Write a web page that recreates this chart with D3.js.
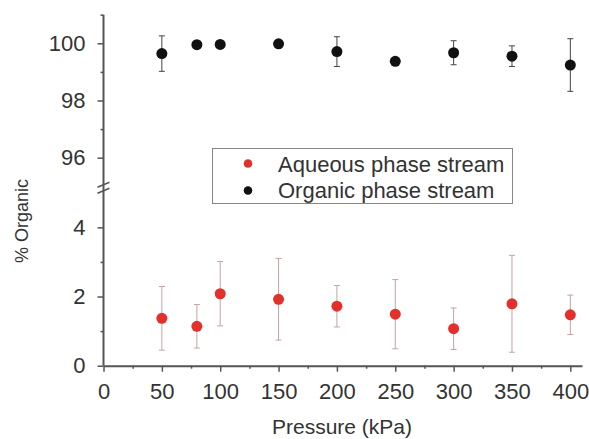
<!DOCTYPE html>
<html>
<head>
<meta charset="utf-8">
<script src="https://cdn.jsdelivr.net/npm/d3@7"></script>
<style>
  html, body { margin: 0; padding: 0; background: #fff; }
  svg { display: block; }
  text { font-family: "Liberation Sans", Arial, Helvetica, sans-serif; fill: #333; }
</style>
</head>
<body>
<svg id="chart" width="589" height="439"></svg>
<script>
// Pressure settings (kPa)
const pressures = [50, 80, 100, 150, 200, 250, 300, 350, 400];

// % organic in the organic phase stream, with standard deviation
const organicMean = [99.64, 99.95, 99.96, 99.98, 99.71, 99.37, 99.67, 99.55, 99.24];
const organicErr  = [0.62, 0, 0, 0, 0.52, 0, 0.42, 0.36, 0.92];

// % organic in the aqueous phase stream, with standard deviation
const aqueousMean = [1.37, 1.14, 2.08, 1.92, 1.72, 1.49, 1.07, 1.79, 1.47];
const aqueousErr  = [0.92, 0.63, 0.93, 1.18, 0.60, 1.00, 0.60, 1.40, 0.57];

// Tick values
const xTicks = [0, 50, 100, 150, 200, 250, 300, 350, 400];
const xMinorTicks = [25, 75, 125, 175, 225, 275, 325, 375];
const upperTicks = [96, 98, 100];
const upperMinorTicks = [97, 99, 101];
const lowerTicks = [0, 2, 4];
const lowerMinorTicks = [1, 3];

const legendLabels = ["Aqueous phase stream", "Organic phase stream"];
const colors = { aqueous: "#e2312c", organic: "#111111" };

const svg = d3.select("#chart");

const x = d3.scaleLinear().domain([0, 410]).range([103.5, 582]);
const yUpper = d3.scaleLinear().domain([95, 101]).range([186.3, 14.7]);
const yLower = d3.scaleLinear().domain([0, 5.1]).range([365.7, 189.3]);

const axisColor = "#555";
const fmt = d3.format("d");

// X axis
const gx = svg.append("g").attr("transform", `translate(0,${yLower(0)})`);
gx.call(d3.axisBottom(x).tickValues(xTicks).tickFormat(fmt).tickSize(6).tickSizeOuter(0).tickPadding(12));
gx.append("g").call(d3.axisBottom(x).tickValues(xMinorTicks).tickSize(3).tickFormat(""))
  .select(".domain").remove();

// Y axes (upper and lower segments)
const gyU = svg.append("g").attr("transform", `translate(${x(0)},0)`);
gyU.call(d3.axisLeft(yUpper).tickValues(upperTicks).tickFormat(fmt).tickSize(6).tickPadding(12));
gyU.append("g").call(d3.axisLeft(yUpper).tickValues(upperMinorTicks).tickSize(3).tickFormat(""));
const gyL = svg.append("g").attr("transform", `translate(${x(0)},0)`);
gyL.call(d3.axisLeft(yLower).tickValues(lowerTicks).tickFormat(fmt).tickSize(6).tickPadding(12));
gyL.append("g").call(d3.axisLeft(yLower).tickValues(lowerMinorTicks).tickSize(3).tickFormat(""));
gyU.selectAll(".domain").remove();
gyL.selectAll(".domain").remove();

// Continuous vertical axis line with break marks
svg.append("line")
  .attr("x1", x(0)).attr("x2", x(0))
  .attr("y1", yUpper(101)).attr("y2", yLower(0))
  .attr("stroke", axisColor).attr("stroke-width", 2);
const breakMid = (yUpper(95) + yLower(5.1)) / 2;
[-3, 3].forEach(off => {
  svg.append("line")
    .attr("x1", x(0) - 6).attr("x2", x(0) + 6)
    .attr("y1", breakMid + off + 2.5).attr("y2", breakMid + off - 2.5)
    .attr("stroke", axisColor).attr("stroke-width", 1.5);
});

svg.selectAll(".tick line").attr("stroke", axisColor).attr("stroke-width", 1.5);
svg.selectAll(".domain").attr("stroke", axisColor).attr("stroke-width", 2);
svg.selectAll(".tick text")
  .attr("font-size", 22)
  .attr("fill", "#333")
  .style("font-family", "'Liberation Sans', Arial, sans-serif");

// Error bars
function drawErrors(means, errs, yScale, color, cls) {
  const g = svg.append("g").attr("class", cls);
  const rows = pressures.map((p, i) => ({ p, m: means[i], e: errs[i] })).filter(d => d.e > 0);
  g.selectAll("line.v").data(rows).join("line")
    .attr("x1", d => x(d.p)).attr("x2", d => x(d.p))
    .attr("y1", d => yScale(d.m + d.e)).attr("y2", d => yScale(d.m - d.e))
    .attr("stroke", color).attr("stroke-width", 1);
  ["+", "-"].forEach(sign => {
    g.selectAll("line.cap" + (sign === "+" ? "t" : "b")).data(rows).join("line")
      .attr("x1", d => x(d.p) - 3).attr("x2", d => x(d.p) + 3)
      .attr("y1", d => yScale(sign === "+" ? d.m + d.e : d.m - d.e))
      .attr("y2", d => yScale(sign === "+" ? d.m + d.e : d.m - d.e))
      .attr("stroke", color).attr("stroke-width", 1);
  });
}
drawErrors(organicMean, organicErr, yUpper, "#444", "err-org");
drawErrors(aqueousMean, aqueousErr, yLower, "#c4a3a3", "err-aq");

// Points
svg.append("g").selectAll("circle").data(pressures).join("circle")
  .attr("cx", d => x(d)).attr("cy", (d, i) => yUpper(organicMean[i]))
  .attr("r", 5.5).attr("fill", colors.organic);
svg.append("g").selectAll("circle").data(pressures).join("circle")
  .attr("cx", d => x(d)).attr("cy", (d, i) => yLower(aqueousMean[i]))
  .attr("r", 5.5).attr("fill", colors.aqueous);

// Legend
const lg = svg.append("g");
lg.append("rect").attr("x", 212.5).attr("y", 148.5).attr("width", 300).attr("height", 55)
  .attr("fill", "#fff").attr("stroke", "#888").attr("stroke-width", 1);
[colors.aqueous, colors.organic].forEach((c, i) => {
  lg.append("circle").attr("cx", 248).attr("cy", 163.5 + i * 27).attr("r", 4.3).attr("fill", c);
  lg.append("text").attr("x", 278).attr("y", 171.5 + i * 26.5)
    .attr("font-size", 22).text(legendLabels[i]);
});

// Axis titles
svg.append("text")
  .attr("x", 342).attr("y", 434)
  .attr("text-anchor", "middle")
  .attr("font-size", 21)
  .text("Pressure (kPa)");
svg.append("text")
  .attr("transform", "translate(28,221) rotate(-90)")
  .attr("text-anchor", "middle")
  .attr("font-size", 18)
  .text("% Organic");
</script>
</body>
</html>
